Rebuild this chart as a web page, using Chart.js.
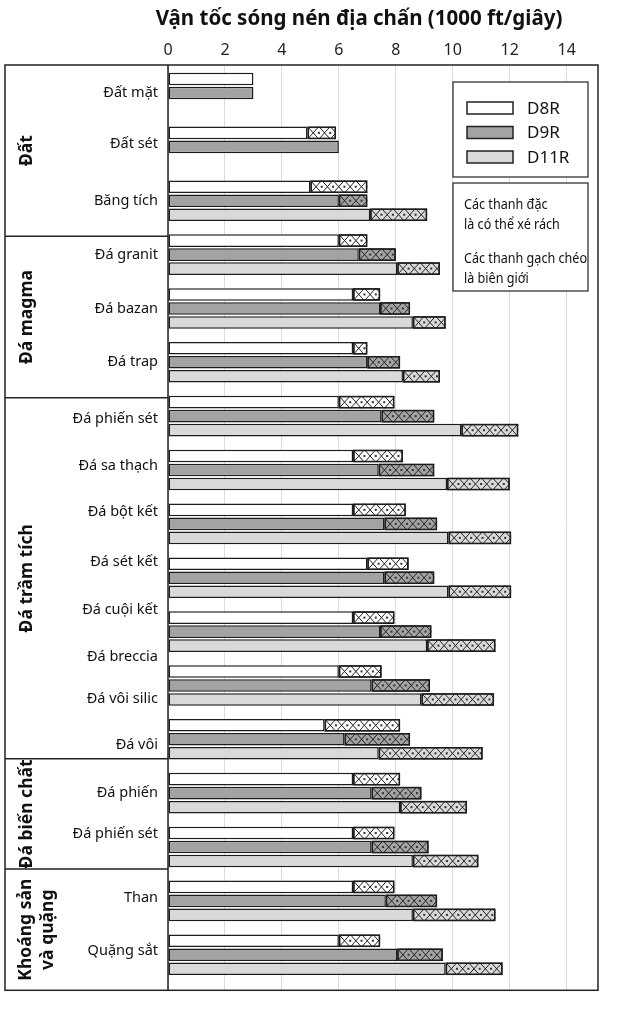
<!DOCTYPE html>
<html>
<head>
<meta charset="utf-8">
<script src="https://cdn.jsdelivr.net/npm/chart.js@4.4.1/dist/chart.umd.min.js"></script>
<style>
  html, body { margin: 0; padding: 0; background: #fff; }
  #wrap { width: 617px; height: 1009px; }
</style>
</head>
<body>
<div id="wrap"><canvas id="rippChart"></canvas></div>
<script>
// ===============================
// DATA (1000 ft/s)
// ===============================
// one bar group per row, top to bottom
const rows = [0, 1, 2, 3, 4, 5, 6, 7, 8, 9, 10, 11, 12, 13, 14, 15, 16];

// end of the solid (rippable) part
const d8rRip  = [3.0, 4.9, 5.0, 6.0, 6.5, 6.5, 6.0, 6.5, 6.5, 7.0, 6.5, 6.0, 5.5, 6.5, 6.5, 6.5, 6.0];
const d9rRip  = [3.0, 6.0, 6.0, 6.7, 7.45, 7.0, 7.5, 7.4, 7.6, 7.6, 7.45, 7.15, 6.2, 7.15, 7.15, 7.65, 8.05];
const d11rRip = [null, null, 7.1, 8.05, 8.6, 8.25, 10.3, 9.8, 9.85, 9.85, 9.1, 8.9, 7.4, 8.15, 8.6, 8.6, 9.75];

// end of the cross-hatched (marginal) part
const d8rMarg  = [null, 5.9, 7.0, 7.0, 7.45, 7.0, 7.95, 8.25, 8.35, 8.45, 7.95, 7.5, 8.15, 8.15, 7.95, 7.95, 7.45];
const d9rMarg  = [null, null, 7.0, 8.0, 8.5, 8.15, 9.35, 9.35, 9.45, 9.35, 9.25, 9.2, 8.5, 8.9, 9.15, 9.45, 9.65];
const d11rMarg = [null, null, 9.1, 9.55, 9.75, 9.55, 12.3, 12.0, 12.05, 12.05, 11.5, 11.45, 11.05, 10.5, 10.9, 11.5, 11.75];

// rock names and the row each name sits on
const rocks = ["Đất mặt", "Đất sét", "Băng tích",
  "Đá granit", "Đá bazan", "Đá trap",
  "Đá phiến sét", "Đá sa thạch", "Đá bột kết", "Đá sét kết", "Đá cuội kết", "Đá breccia", "Đá vôi silic", "Đá vôi",
  "Đá phiến", "Đá phiến sét",
  "Than", "Quặng sắt"];
const rockRows = [0, 0.94, 2, 3, 4, 5, 6.05, 6.93, 7.77, 8.7, 9.6, 10.47, 11.25, 12.1, 13, 13.76, 14.95, 15.93];

// rock classes and where their boxes end (in rows)
const classes = [["Đất"], ["Đá magma"], ["Đá trầm tích"], ["Đá biến chất"], ["Khoáng sản", "và quặng"]];
const classBreaks = [-0.52, 2.66, 5.66, 12.36, 14.41, 16.66];

const xTicks = [0, 2, 4, 6, 8, 10, 12, 14];

const titleText = "Vận tốc sóng nén địa chấn (1000 ft/giây)";
const noteLines = [["Các thanh đặc", "là có thể xé rách"], ["Các thanh gạch chéo", "là biên giới"]];

// ===============================
// DATASETS
// ===============================
const machines = [
  { name: "D8R",  rip: d8rRip,  marg: d8rMarg,  color: "#ffffff" },
  { name: "D9R",  rip: d9rRip,  marg: d9rMarg,  color: "#a3a3a3" },
  { name: "D11R", rip: d11rRip, marg: d11rMarg, color: "#d9d9d9" }
];

function solidData(m) {
  return rows.filter(r => m.rip[r] != null).map(r => ({ y: r, x: [0, m.rip[r]] }));
}
function hatchData(m) {
  return rows.filter(r => m.marg[r] != null).map(r => ({ y: r, x: [m.rip[r], m.marg[r]] }));
}

const datasets = [];
machines.forEach(m => {
  datasets.push({ label: m.name, stack: m.name, data: solidData(m), backgroundColor: m.color, hatched: false });
  datasets.push({ label: m.name + " biên giới", stack: m.name, data: hatchData(m), backgroundColor: m.color, hatched: true });
});
datasets.forEach(ds => {
  ds.borderColor = "#1c1c1c";
  ds.borderWidth = 1.5;
  ds.borderSkipped = false;
  ds.categoryPercentage = 0.78;
  ds.barPercentage = 0.9;
});

const FONT = "'Noto Sans', 'Open Sans', sans-serif";

// ===============================
// DRAWING HELPERS (plugin)
// ===============================
function drawHatching(chart) {
  const ctx = chart.ctx;
  chart.data.datasets.forEach((ds, i) => {
    if (!ds.hatched) return;
    chart.getDatasetMeta(i).data.forEach(bar => {
      const p = bar.getProps(["x", "y", "base", "height"], true);
      const left = Math.min(p.x, p.base), right = Math.max(p.x, p.base);
      const h = p.height, top = p.y - h / 2;
      const step = h * 0.9;
      ctx.save();
      ctx.beginPath();
      ctx.rect(left, top, right - left, h);
      ctx.clip();
      ctx.beginPath();
      for (let sx = left; sx < right; sx += step) {
        ctx.moveTo(sx, top); ctx.lineTo(sx + step, top + h);
        ctx.moveTo(sx + step, top); ctx.lineTo(sx, top + h);
      }
      ctx.strokeStyle = "#222";
      ctx.lineWidth = 1;
      ctx.stroke();
      ctx.fillStyle = "#333";
      for (let sx = left + step; sx < right; sx += step) {
        ctx.fillRect(sx - 1, top + h / 2 - 1, 2, 2);
      }
      ctx.restore();
      ctx.save();
      ctx.strokeStyle = ds.borderColor;
      ctx.lineWidth = ds.borderWidth;
      ctx.strokeRect(left + 0.75, top + 0.75, right - left - 1.5, h - 1.5);
      ctx.restore();
    });
  });
}

// narrow text, like the condensed face of the original
function narrowText(ctx, text, x, y, squeeze) {
  ctx.save();
  ctx.translate(x, y);
  ctx.scale(squeeze, 1);
  ctx.fillText(text, 0, 0);
  ctx.restore();
}

function drawNotes(chart) {
  const ctx = chart.ctx;
  const area = chart.chartArea;
  const bx = area.right - 145, bw = 135;
  ctx.save();
  ctx.lineWidth = 1.3;
  ctx.strokeStyle = "#333";
  ctx.fillStyle = "#fff";

  // legend box, built from the solid datasets
  ctx.fillRect(bx, 82, bw, 95);
  ctx.strokeRect(bx, 82, bw, 95);
  const solids = chart.data.datasets.filter(ds => !ds.hatched);
  solids.forEach((ds, i) => {
    const cy = 108 + i * 24.5;
    ctx.fillStyle = ds.backgroundColor;
    ctx.fillRect(bx + 14, cy - 6, 46, 12);
    ctx.lineWidth = 1.5;
    ctx.strokeStyle = "#222";
    ctx.strokeRect(bx + 14, cy - 6, 46, 12);
    ctx.fillStyle = "#111";
    ctx.font = "17px " + FONT;
    ctx.textAlign = "left";
    ctx.textBaseline = "middle";
    ctx.fillText(ds.label, bx + 74, cy + 1);
  });

  // note box
  ctx.fillStyle = "#fff";
  ctx.lineWidth = 1.3;
  ctx.strokeStyle = "#333";
  ctx.fillRect(bx, 183, bw, 108);
  ctx.strokeRect(bx, 183, bw, 108);
  ctx.fillStyle = "#111";
  ctx.font = "14px " + FONT;
  ctx.textAlign = "left";
  ctx.textBaseline = "middle";
  noteLines.forEach((pair, i) => {
    pair.forEach((line, j) => {
      narrowText(ctx, line, bx + 11, 205 + i * 54 + j * 20, 0.9);
    });
  });
  ctx.restore();
}

function drawFrame(chart) {
  const ctx = chart.ctx;
  const area = chart.chartArea;
  const yScale = chart.scales.y;
  const outerLeft = chart.scales.yRock.left;
  ctx.save();
  ctx.strokeStyle = "#222";
  ctx.lineWidth = 1.5;
  ctx.strokeRect(outerLeft, area.top, area.right - outerLeft, area.bottom - area.top);
  ctx.beginPath();
  ctx.moveTo(area.left, area.top);
  ctx.lineTo(area.left, area.bottom);
  classBreaks.slice(1, -1).forEach(b => {
    const py = yScale.getPixelForValue(b);
    ctx.moveTo(outerLeft, py);
    ctx.lineTo(area.left, py);
  });
  ctx.stroke();

  // class names, rotated
  ctx.fillStyle = "#111";
  ctx.font = "bold 17.5px " + FONT;
  ctx.textAlign = "center";
  ctx.textBaseline = "middle";
  classes.forEach((lines, i) => {
    const cy = (yScale.getPixelForValue(classBreaks[i]) + yScale.getPixelForValue(classBreaks[i + 1])) / 2;
    const cx = outerLeft + 22 + (lines.length - 1) * 10;
    ctx.save();
    ctx.translate(cx, cy);
    ctx.rotate(-Math.PI / 2);
    lines.forEach((line, j) => {
      const off = (j - (lines.length - 1) / 2) * 22;
      ctx.fillText(line, 0, off);
    });
    ctx.restore();
  });

  // title
  ctx.font = "bold 20.5px " + FONT;
  ctx.fillText(titleText, 359, 19);
  ctx.restore();
}

const rockPlugin = {
  id: "rockPlugin",
  afterDatasetsDraw(chart) {
    drawHatching(chart);
    drawNotes(chart);
  },
  afterDraw(chart) {
    drawFrame(chart);
  }
};

// ===============================
// CHART
// ===============================
new Chart(document.getElementById("rippChart"), {
  type: "bar",
  data: { datasets: datasets },
  plugins: [rockPlugin],
  options: {
    indexAxis: "y",
    responsive: true,
    maintainAspectRatio: false,
    animation: false,
    layout: { padding: { left: 5, right: 19, top: 41, bottom: 15 } },
    plugins: {
      legend: { display: false },
      title: { display: false },
      tooltip: { enabled: false }
    },
    scales: {
      x: {
        type: "linear",
        position: "top",
        min: 0,
        max: 15.1,
        stacked: false,
        afterBuildTicks: axis => { axis.ticks = xTicks.map(v => ({ value: v })); },
        afterFit: axis => { axis.height = 24; },
        ticks: { color: "#222", font: { family: FONT, size: 16 }, padding: 5 },
        grid: { color: "#dcdcdc", lineWidth: 1, drawTicks: false },
        border: { display: false }
      },
      y: {
        type: "linear",
        display: false,
        offset: false,
        reverse: true,
        min: classBreaks[0],
        max: classBreaks[classBreaks.length - 1],
        afterBuildTicks: axis => { axis.ticks = rows.map(v => ({ value: v })); }
      },
      yRock: {
        type: "linear",
        position: "left",
        offset: false,
        reverse: true,
        min: classBreaks[0],
        max: classBreaks[classBreaks.length - 1],
        afterBuildTicks: axis => { axis.ticks = rockRows.map(v => ({ value: v })); },
        afterFit: axis => { axis.width = 163; },
        ticks: {
          autoSkip: false,
          color: "#111",
          padding: 10,
          font: { family: FONT, size: 14.5 },
          callback: (value, index) => rocks[index]
        },
        grid: { display: false, drawTicks: false, offset: false },
        border: { display: false }
      }
    }
  }
});
</script>
</body>
</html>
